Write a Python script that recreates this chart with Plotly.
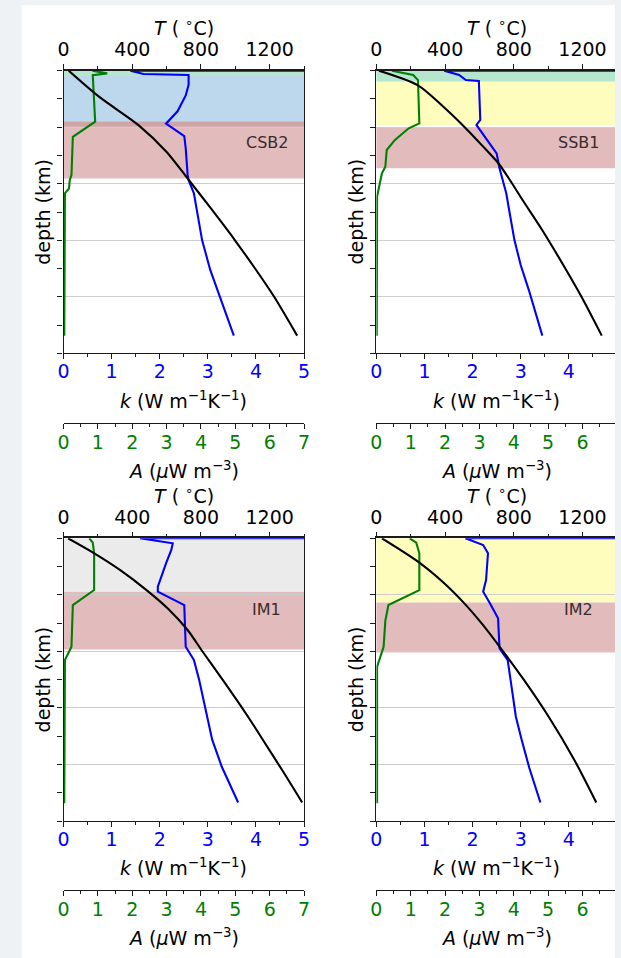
import plotly.graph_objects as go

W, H = 621, 958

# ---------------- data ----------------
panel_names = ["CSB2", "SSB1", "IM1", "IM2"]

# temperature profiles (T in deg C vs depth in km)
T_depth_csb2 = [0, 15, 30.8, 46, 61, 78, 96, 112, 128, 150]
T_csb2 = [30, 210, 436, 600, 722, 858, 998, 1115, 1226, 1360]
T_depth_ssb1 = [0, 8.3, 20, 31.3, 42, 52.4, 62, 73.2, 90.3, 110, 128, 150]
T_ssb1 = [15, 242, 385, 507, 612, 710, 778, 851, 966, 1088, 1194, 1312]
T_depth_im1 = [0, 8.5, 18, 29.3, 40, 51.9, 64.2, 82, 101, 114, 132, 149.5]
T_im1 = [26, 179, 330, 483, 610, 722, 810, 940, 1074, 1160, 1278, 1389]
T_depth_im2 = [0, 13.2, 25, 36.4, 49, 61.4, 80, 101, 125, 149.5]
T_im2 = [32, 242, 390, 508, 620, 718, 858, 1003, 1150, 1280]

# thermal conductivity profiles (k in W/m/K vs depth in km)
k_depth_csb2 = [0, 0, 1.9, 2.4, 8, 14, 23, 29, 30, 37, 44, 59, 62, 69.4, 80.7, 95.9, 112.8, 126, 150]
k_csb2 = [5.0, 1.39, 1.66, 2.6, 2.6, 2.54, 2.37, 2.17, 2.13, 2.51, 2.54, 2.58, 2.6, 2.71, 2.78, 2.88, 3.05, 3.22, 3.54]
k_depth_ssb1 = [0, 0, 2.4, 5.3, 5.8, 27.9, 30.7, 46.8, 55.3, 69.4, 82, 95.9, 110, 124.2, 150]
k_ssb1 = [5.0, 1.41, 1.72, 1.86, 2.13, 2.16, 2.08, 2.5, 2.56, 2.70, 2.78, 2.87, 3.0, 3.17, 3.45]
k_depth_im1 = [0, 0, 2.8, 6.6, 14.2, 27.4, 30.2, 37.8, 61.4, 68.9, 80.2, 101, 114, 129.3, 149.5]
k_im1 = [5.0, 1.59, 2.27, 2.24, 2.13, 1.96, 1.96, 2.51, 2.54, 2.71, 2.82, 2.99, 3.09, 3.29, 3.63]
k_depth_im2 = [0, 0, 3.8, 8.5, 23.6, 30.2, 36.8, 45.3, 62.3, 68.9, 84, 101, 114, 130, 149.5]
k_im2 = [5.0, 1.85, 2.22, 2.32, 2.28, 2.22, 2.36, 2.53, 2.56, 2.73, 2.81, 2.9, 3.02, 3.18, 3.41]

# heat production profiles (A in uW/m3 vs depth in km)
A_depth_csb2 = [0, 1.5, 2.5, 10, 28.9, 37.4, 59.1, 62, 66.6, 69.4, 150]
A_csb2 = [0.84, 1.27, 0.85, 0.87, 0.92, 0.27, 0.23, 0.18, 0.16, 0.04, 0.02]
A_depth_ssb1 = [0, 2.4, 5.3, 29.8, 32.6, 39.2, 44.9, 54.4, 58.1, 65.7, 71.3, 150]
A_ssb1 = [0.45, 1.07, 1.21, 1.25, 0.94, 0.54, 0.3, 0.26, 0.16, 0.07, 0.02, 0.01]
A_depth_im1 = [0, 2.5, 8.5, 29.3, 37.8, 61.4, 68.9, 150]
A_im1 = [0.75, 0.85, 0.89, 0.89, 0.27, 0.23, 0.04, 0.02]
A_depth_im2 = [0, 2.5, 8.5, 29.3, 37.8, 46.7, 61.4, 68.9, 72.7, 150]
A_im2 = [0.97, 1.16, 1.25, 1.25, 0.35, 0.26, 0.21, 0.07, 0.02, 0.02]

# crustal layers: top depth, bottom depth, colour
layer_tops_csb2 = [0, 3, 28.8, 28.8]
layer_bots_csb2 = [3, 28.8, 61, 31.6]
layer_cols_csb2 = ["#B6E6CD", "#BDD7EC", "#E2BBBC", "#D0A5A8"]
layer_tops_ssb1 = [0, 6.2, 32]
layer_bots_ssb1 = [6.2, 31, 55.3]
layer_cols_ssb1 = ["#B6E6CD", "#FFFDBE", "#E2BBBC"]
layer_tops_im1 = [0, 30.2]
layer_bots_im1 = [30.2, 63]
layer_cols_im1 = ["#EBEBEB", "#E2BBBC"]
layer_tops_im2 = [0, 36.4]
layer_bots_im2 = [36.4, 64.7]
layer_cols_im2 = ["#FFFDBE", "#E2BBBC"]

T_ticks = [0, 400, 800, 1200]
k_ticks = [0, 1, 2, 3, 4, 5]
A_ticks = [0, 1, 2, 3, 4, 5, 6, 7]

# ---------------- layout geometry (pixels) ----------------
FONT = "DejaVu Sans"
FS = 19
COL_K = "#0000FF"
COL_A = "#008000"

px_x = lambda v: v / W
px_y = lambda v: 1 - v / H

left_px = [(58.7, 303.9), (377.7, 621.0), (58.7, 303.9), (377.7, 621.0)]
full_w = 245.2
top_px = [(70.7, 353.3), (70.7, 353.3), (538.3, 821.0), (538.3, 821.0)]
A_line_px = [422.7, 422.7, 890.0, 890.0]
title_T_px = [27.5, 27.5, 494.5, 494.5]
title_k_px = [400, 400, 866.7, 866.7]
title_A_px = [470, 470, 936.7, 936.7]
depth_x_px = [37.5, 356.5, 37.5, 356.5]

profiles = [
    (T_depth_csb2, T_csb2, k_depth_csb2, k_csb2, A_depth_csb2, A_csb2,
     layer_tops_csb2, layer_bots_csb2, layer_cols_csb2),
    (T_depth_ssb1, T_ssb1, k_depth_ssb1, k_ssb1, A_depth_ssb1, A_ssb1,
     layer_tops_ssb1, layer_bots_ssb1, layer_cols_ssb1),
    (T_depth_im1, T_im1, k_depth_im1, k_im1, A_depth_im1, A_im1,
     layer_tops_im1, layer_bots_im1, layer_cols_im1),
    (T_depth_im2, T_im2, k_depth_im2, k_im2, A_depth_im2, A_im2,
     layer_tops_im2, layer_bots_im2, layer_cols_im2),
]

fig = go.Figure()
shapes = [dict(type="rect", xref="paper", yref="paper", x0=16 / W, x1=1, y0=0, y1=1 - 5 / H,
               fillcolor="white", line=dict(width=0), layer="below")]
annotations = []
layout = {}

for i, (name, prof) in enumerate(zip(panel_names, profiles)):
    Td, Tv, kd, kv, Ad, Av, ltop, lbot, lcol = prof
    x0p, x1p = left_px[i]
    frac = (x1p - x0p) / full_w
    y0p, y1p = top_px[i]
    nA, nK, nT = 3 * i + 1, 3 * i + 2, 3 * i + 3
    yn = i + 1
    ysfx = "" if yn == 1 else str(yn)
    xa_name = lambda n: "xaxis" if n == 1 else f"xaxis{n}"
    xa_ref = lambda n: "x" if n == 1 else f"x{n}"
    dom_x = [px_x(x0p), px_x(x1p)]
    dom_y = [px_y(y1p), px_y(y0p)]
    common = dict(domain=dom_x, showgrid=False, zeroline=False, showline=True,
                  linecolor="#1a1a1a", linewidth=1.3, ticks="outside", ticklen=5,
                  tickwidth=1.1, tickcolor="#1a1a1a", fixedrange=True)
    # A axis (base, free position below)
    layout[xa_name(nA)] = dict(common, anchor="free", position=px_y(A_line_px[i]),
                                range=[0, 7 * frac], tickvals=A_ticks, side="bottom",
                                ticklabelstandoff=-3,
                                tickfont=dict(family=FONT, size=FS, color=COL_A),
                                minor=dict(dtick=0.5, tick0=0, ticks="outside", ticklen=3,
                                           tickcolor="#1a1a1a"))
    # k axis (bottom of panel)
    layout[xa_name(nK)] = dict(common, anchor="y" + ysfx, overlaying=xa_ref(nA), side="bottom",
                                range=[0, 5 * frac], tickvals=k_ticks,
                                ticklabelstandoff=-4,
                                tickfont=dict(family=FONT, size=FS, color=COL_K),
                                minor=dict(dtick=0.5, tick0=0, ticks="outside", ticklen=3,
                                           tickcolor="#1a1a1a"))
    # T axis (top of panel)
    layout[xa_name(nT)] = dict(common, anchor="y" + ysfx, overlaying=xa_ref(nA), side="top",
                                range=[0, 1400 * frac], tickvals=T_ticks, linewidth=1.6,
                                tickfont=dict(family=FONT, size=FS, color="black"),
                                minor=dict(dtick=200, tick0=0, ticks="outside", ticklen=3,
                                           tickcolor="#1a1a1a"))
    layout["yaxis" + ysfx] = dict(domain=dom_y, anchor=xa_ref(nK), range=[160, 0],
                                  showline=True, linecolor="#1a1a1a", linewidth=1.3,
                                  mirror=(i % 2 == 0), zeroline=False,
                                  tickmode="linear", tick0=0, dtick=32, ticks="outside",
                                  ticklen=5, tickwidth=1.1, tickcolor="#1a1a1a",
                                  showticklabels=False, showgrid=True,
                                  gridcolor="#cdcdcd", gridwidth=1,
                                  minor=dict(dtick=16, tick0=0, ticks="outside", ticklen=5,
                                             tickcolor="#1a1a1a", showgrid=False),
                                  fixedrange=True)

    for t, b, c in zip(ltop, lbot, lcol):
        shapes.append(dict(type="rect", xref=xa_ref(nK) + " domain", yref="y" + ysfx,
                           x0=0, x1=1, y0=t, y1=b, fillcolor=c, line=dict(width=0),
                           layer="below"))

    yref = "y" + ysfx
    fig.add_trace(go.Scatter(x=Av, y=Ad, xaxis=xa_ref(nA), yaxis=yref, mode="lines",
                             line=dict(color=COL_A, width=2.1), showlegend=False))
    fig.add_trace(go.Scatter(x=kv, y=kd, xaxis=xa_ref(nK), yaxis=yref, mode="lines",
                             line=dict(color=COL_K, width=2.1), showlegend=False))
    fig.add_trace(go.Scatter(x=Tv, y=Td, xaxis=xa_ref(nT), yaxis=yref, mode="lines",
                             line=dict(color="black", width=2.1, shape="spline",
                                       smoothing=0.8),
                             showlegend=False))

    cx = px_x(x0p + full_w / 2)
    annotations += [
        dict(text="<i>T</i> ( <sup>∘</sup>C)", x=cx, y=px_y(title_T_px[i]),
             xref="paper", yref="paper", showarrow=False, xanchor="center", yanchor="middle",
             font=dict(family=FONT, size=FS, color="black")),
        dict(text="<i>k</i> (W m<sup>−1</sup>K<sup>−1</sup>)", x=cx, y=px_y(title_k_px[i]),
             xref="paper", yref="paper", showarrow=False, xanchor="center", yanchor="middle",
             font=dict(family=FONT, size=FS, color="black")),
        dict(text="<i>A</i> (<i>μ</i>W m<sup>−3</sup>)", x=cx, y=px_y(title_A_px[i]),
             xref="paper", yref="paper", showarrow=False, xanchor="center", yanchor="middle",
             font=dict(family=FONT, size=FS, color="black")),
        dict(text="depth (km)", x=px_x(depth_x_px[i]), y=px_y((y0p + y1p) / 2),
             xref="paper", yref="paper", showarrow=False, textangle=-90,
             xanchor="center", yanchor="middle",
             font=dict(family=FONT, size=FS, color="black")),
        dict(text=name, x=0.845, y=40.4, xref=xa_ref(nK) + " domain", yref=yref,
             showarrow=False, xanchor="center", yanchor="middle",
             font=dict(family=FONT, size=16, color="#3a2c2c")),
    ]

fig.update_layout(width=W, height=H, margin=dict(l=0, r=0, t=0, b=0),
                  paper_bgcolor="#eef2f5", plot_bgcolor="rgba(0,0,0,0)",
                  shapes=shapes, annotations=annotations, showlegend=False,
                  font=dict(family=FONT, size=FS), **layout)

fig.write_html("out.html", config={"displayModeBar": False},
               post_script="document.body.style.margin='0';"
                           "document.body.style.overflow='hidden';")
